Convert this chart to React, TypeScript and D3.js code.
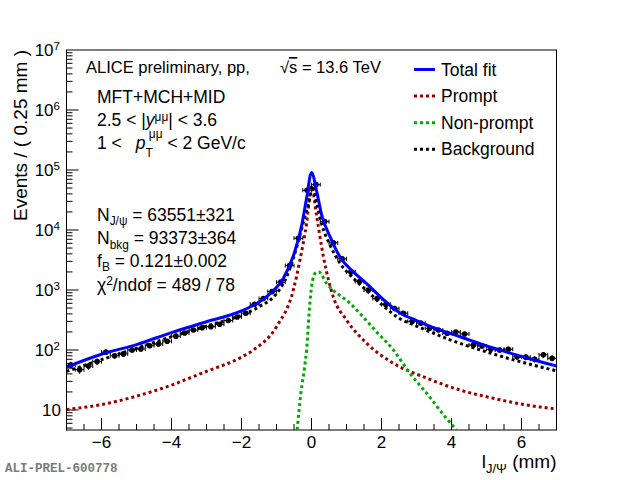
import React, { useRef, useEffect } from 'react';
import * as d3 from 'd3';

// binned data, Events / (0.25 mm)
const binCenters = [
  -6.875, -6.625, -6.375, -6.125, -5.875, -5.625, -5.375, -5.125, -4.875, -4.625, -4.375, -4.125, -3.875, -3.625,
  -3.375, -3.125, -2.875, -2.625, -2.375, -2.125, -1.875, -1.625, -1.375, -1.125, -0.875, -0.625, -0.375, -0.125,
  0.125, 0.375, 0.625, 0.875, 1.125, 1.375, 1.625, 1.875, 2.125, 2.375, 2.625, 2.875, 3.125, 3.375,
  3.625, 3.875, 4.125, 4.375, 4.625, 4.875, 5.125, 5.375, 5.625, 5.875, 6.125, 6.375, 6.625, 6.875,
];
const counts = [
  56, 47, 54, 64, 92, 80, 86, 100, 104, 118, 126, 140, 170, 192,
  215, 235, 245, 268, 310, 355, 410, 580, 720, 940, 1350, 2550, 7300, 46000,
  57000, 13800, 6100, 3300, 2000, 1380, 1000, 720, 575, 490, 410, 300, 280, 230,
  215, 190, 200, 185, 121, 117, 103, 100, 103, 77, 76, 70, 83, 73,
];

// fit components
const totalX = [-7, -6, -5, -4, -3, -2, -1.5, -1.2, -0.8, -0.5, -0.28, -0.14, 0, 0.15, 0.29, 0.53, 0.81, 1.19, 1.62, 2, 2.5, 3, 3.5, 4, 5, 6, 7];
const totalY = [52, 85, 123, 195, 295, 447, 630, 850, 1580, 3980, 12000, 34000, 91000, 43600, 17800, 7760, 3590, 2020, 1210, 740, 427, 309, 234, 186, 117, 78, 54];

const promptX = [-7, -6, -5, -4, -3.38, -3, -2, -1.66, -1, -0.52, -0.33, -0.14, 0, 0.15, 0.34, 0.62, 1, 1.58, 2.34, 3.29, 4.24, 5.19, 6.15, 7];
const promptY = [10.2, 12.3, 17, 26, 36, 44, 76, 100, 245, 1000, 3160, 12900, 52500, 16600, 3590, 776, 316, 129, 60, 34, 21.5, 15.7, 12.1, 10.4];

const nonPromptX = [-0.41, -0.3, -0.2, -0.14, -0.04, 0.1, 0.2, 0.43, 1.1, 1.86, 2.34, 2.81, 3.29, 3.86, 4.15];
const nonPromptY = [4.64, 20, 50, 100, 676, 1900, 2020, 1290, 600, 200, 100, 41, 19, 7.2, 4.64];

const bkgX = [-7, -6, -5, -4, -3, -2, -1.5, -1, -0.71, -0.42, -0.19, -0.04, 0.02, 0.15, 0.29, 0.53, 0.81, 1.19, 1.62, 2, 2.5, 3, 4, 5, 6, 7];
const bkgY = [44, 69, 107, 166, 251, 380, 525, 870, 1660, 5250, 16600, 35500, 55000, 27500, 12600, 5600, 2820, 1580, 930, 575, 340, 251, 145, 93, 63, 45];

const xTickLabels = [-6, -4, -2, 0, 2, 4, 6];
const yDecades = [1, 2, 3, 4, 5, 6, 7];

const legendNames = ['Total fit', 'Prompt', 'Non-prompt', 'Background'];
const legendColors = ['#0000ff', '#990000', '#00aa00', '#000000'];

const FONT = '"Liberation Sans", Arial, Helvetica, sans-serif';

type Seg = { s: string; k?: 'sup' | 'sub'; it?: boolean; dx?: number; over?: boolean; off?: number };

const rich = (g: any, x: number, y: number, size: number, segs: Seg[]) => {
  const t = g.append('text')
    .attr('x', x).attr('y', y)
    .attr('font-family', FONT).attr('font-size', size).attr('fill', '#000');
  let cur = 0;
  segs.forEach(sg => {
    let off = sg.k === 'sup' ? -size * 0.38 : sg.k === 'sub' ? size * 0.26 : 0;
    if (sg.off !== undefined) off = sg.off;
    const ts = t.append('tspan')
      .attr('dy', off - cur)
      .attr('font-size', sg.k ? size * 0.68 : size)
      .text(sg.s);
    if (sg.dx) ts.attr('dx', sg.dx);
    if (sg.it) ts.attr('font-style', 'italic');
    if (sg.over) ts.attr('text-decoration', 'overline');
    cur = off;
  });
  return t;
};

const App: React.FC = () => {
  const svgRef = useRef<SVGSVGElement | null>(null);
  const width = 620;
  const height = 480;

  useEffect(() => {
    const svg = d3.select(svgRef.current)
      .attr('width', width)
      .attr('height', height)
      .style('background', '#fff')
      .style('position', 'absolute')
      .style('left', '0px')
      .style('top', '0px');

    const left = 66.5, right = 556.5, top = 50, bottom = 430;

    const x = d3.scaleLinear().domain([-7, 7]).range([left, right]);
    const y = d3.scaleLog().domain([4.64, 1e7]).range([bottom, top]);

    svg.append('defs').append('clipPath').attr('id', 'plotclip')
      .append('rect').attr('x', left).attr('y', top).attr('width', right - left).attr('height', bottom - top);

    // ticks on x
    const gx = svg.append('g');
    d3.range(-6.5, 7, 0.5).forEach(v => {
      const major = Math.abs(v % 2) < 1e-6;
      gx.append('line')
        .attr('x1', x(v)).attr('x2', x(v))
        .attr('y1', bottom).attr('y2', bottom - (major ? 12 : 6))
        .attr('stroke', '#000').attr('stroke-width', 1);
    });
    xTickLabels.forEach(v => {
      gx.append('text')
        .attr('x', x(v)).attr('y', 448)
        .attr('text-anchor', 'middle')
        .attr('font-family', FONT).attr('font-size', 17)
        .text(v < 0 ? '\u2212' + Math.abs(v) : String(v));
    });

    // ticks on y
    const gy = svg.append('g');
    for (let d = 0; d <= 6; d++) {
      for (let k = 1; k <= 9; k++) {
        const v = k * Math.pow(10, d);
        if (v < 4.64 || v > 1e7) continue;
        gy.append('line')
          .attr('x1', left).attr('x2', left + (k === 1 ? 12 : 6))
          .attr('y1', y(v)).attr('y2', y(v))
          .attr('stroke', '#000').attr('stroke-width', 1);
      }
    }
    yDecades.forEach(d => {
      if (d === 1) {
        gy.append('text')
          .attr('x', 61).attr('y', y(10) + 6)
          .attr('text-anchor', 'end')
          .attr('font-family', FONT).attr('font-size', 17)
          .text('10');
      } else {
        rich(gy, 60, y(Math.pow(10, d)) + 6, 17, [{ s: '10' }, { s: String(d), k: 'sup' }])
          .attr('text-anchor', 'end');
      }
    });

    // frame
    svg.append('rect')
      .attr('x', left).attr('y', top)
      .attr('width', right - left).attr('height', bottom - top)
      .attr('fill', 'none').attr('stroke', '#000').attr('stroke-width', 1);

    // axis titles
    svg.append('text')
      .attr('transform', `translate(27,${top}) rotate(-90)`)
      .attr('text-anchor', 'end')
      .attr('font-family', FONT).attr('font-size', 19)
      .text('Events / ( 0.25 mm )');

    rich(svg, right, 468, 19, [{ s: 'l' }, { s: 'J/\u03A8', k: 'sub' }, { s: ' (mm)' }])
      .attr('text-anchor', 'end');

    const plot = svg.append('g').attr('clip-path', 'url(#plotclip)');

    const drawCurve = (xs: number[], ys: number[], color: string, dotted: boolean) => {
      const pts = xs.map((v, i) => [v, ys[i]] as [number, number]);
      const line = d3.line<[number, number]>()
        .x(p => x(p[0]))
        .y(p => y(p[1]))
        .curve(d3.curveMonotoneX);
      plot.append('path')
        .attr('d', line(pts)!)
        .attr('fill', 'none')
        .attr('stroke', color)
        .attr('stroke-width', 3)
        .attr('stroke-dasharray', dotted ? '3,3' : null);
    };

    // data points
    const dg = plot.append('g');
    binCenters.forEach((c, i) => {
      const n = counts[i];
      const err = Math.sqrt(n);
      const cx = x(c), cy = y(n);
      dg.append('line')
        .attr('x1', x(c - 0.125)).attr('x2', x(c + 0.125))
        .attr('y1', cy).attr('y2', cy)
        .attr('stroke', '#000').attr('stroke-width', 1);
      [c - 0.125, c + 0.125].forEach(e => {
        dg.append('line')
          .attr('x1', x(e)).attr('x2', x(e))
          .attr('y1', cy - 2).attr('y2', cy + 2)
          .attr('stroke', '#000').attr('stroke-width', 1);
      });
      dg.append('line')
        .attr('x1', cx).attr('x2', cx)
        .attr('y1', y(n + err)).attr('y2', y(Math.max(n - err, 1)))
        .attr('stroke', '#000').attr('stroke-width', 1);
      dg.append('circle')
        .attr('cx', cx).attr('cy', cy).attr('r', 2.8)
        .attr('fill', '#000');
    });

    drawCurve(promptX, promptY, legendColors[1], true);
    drawCurve(nonPromptX, nonPromptY, legendColors[2], true);
    drawCurve(bkgX, bkgY, legendColors[3], true);
    drawCurve(totalX, totalY, legendColors[0], false);

    // legend
    const lg = svg.append('g');
    legendNames.forEach((name, i) => {
      const cy = 69.5 + i * 26.6;
      lg.append('line')
        .attr('x1', 414).attr('x2', 435)
        .attr('y1', cy).attr('y2', cy)
        .attr('stroke', legendColors[i]).attr('stroke-width', 3)
        .attr('stroke-dasharray', i === 0 ? null : '3,3');
      lg.append('text')
        .attr('x', 441).attr('y', cy + 6)
        .attr('font-family', FONT).attr('font-size', 17.5)
        .text(name);
    });

    // labels
    const tg = svg.append('g');
    rich(tg, 86, 73, 16.5, [{ s: 'ALICE preliminary, pp,' }]);
    rich(tg, 280, 73, 16.5, [{ s: '\u221A' }, { s: 's', over: true }, { s: ' = 13.6 TeV' }]);
    rich(tg, 97, 102.5, 17.5, [{ s: 'MFT+MCH+MID' }]);
    rich(tg, 97, 126, 17.5, [{ s: '2.5 < |' }, { s: 'y', it: true }, { s: '\u03BC\u03BC', k: 'sup', off: -5 }, { s: '| < 3.6' }]);
    rich(tg, 97, 149, 17.5, [
      { s: '1 <' },
      { s: 'p', it: true, dx: 14 },
      { s: 'T', k: 'sub', off: 8 },
      { s: '\u03BC\u03BC', k: 'sup', off: -11, dx: -4 },
      { s: ' < 2 GeV/c' },
    ]);
    rich(tg, 97, 220.5, 17.5, [{ s: 'N' }, { s: 'J/\u03C8', k: 'sub' }, { s: ' = 63551\u00B1321' }]);
    rich(tg, 97, 244, 17.5, [{ s: 'N' }, { s: 'bkg', k: 'sub' }, { s: ' = 93373\u00B1364' }]);
    rich(tg, 97, 267, 17.5, [{ s: 'f' }, { s: 'B', k: 'sub', off: 4 }, { s: ' = 0.121\u00B10.002' }]);
    rich(tg, 97, 290.5, 17.5, [{ s: '\u03C7' }, { s: '2', k: 'sup', off: -6 }, { s: '/ndof = 489 / 78' }]);

    svg.append('text')
      .attr('x', 5).attr('y', 472)
      .attr('font-family', '"Liberation Mono", "DejaVu Sans Mono", monospace')
      .attr('font-size', 12.5).attr('font-weight', 'bold')
      .attr('fill', '#7a7a7a')
      .text('ALI-PREL-600778');

    return () => {
      svg.selectAll('*').remove();
    };
  }, []);

  return <svg ref={svgRef}></svg>;
};

export default App;
